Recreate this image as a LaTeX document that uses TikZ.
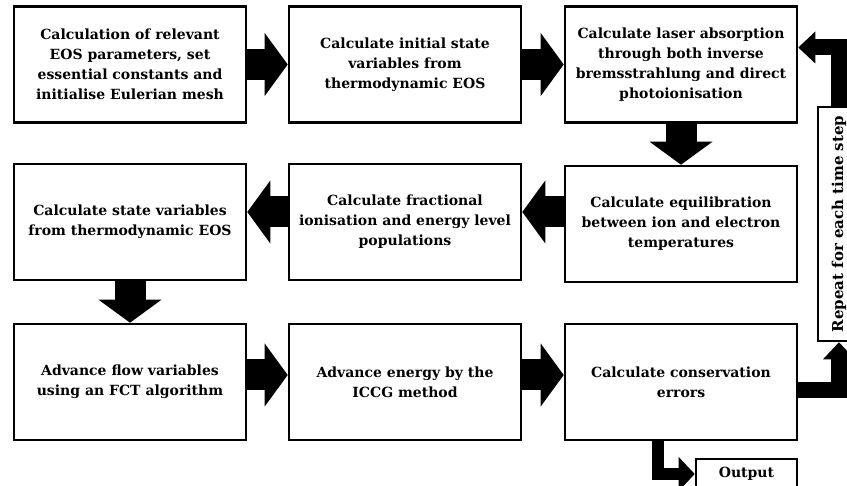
\documentclass[tikz,border=0pt]{standalone}
\usepackage{fontspec}
\setmainfont{DejaVu Serif}
\usetikzlibrary{arrows.meta}
\begin{document}
\begin{tikzpicture}
		[x=1pt,y=-1pt,
		flowbox/.style = {shape=rectangle, draw, line width=2.6pt, align=center, minimum width=232pt, minimum height=116pt, inner sep=2pt, font=\bfseries\fontsize{14}{20}\selectfont},
		bigarrow/.style = {line width=31pt, -{Triangle[length=23pt,width=63pt,line width=0pt]}},
		looparrow/.style = {line width=16pt, -{Triangle[length=17pt,width=32pt,line width=0pt]}},
		outarrow/.style = {line width=12pt, -{Triangle[length=16pt,width=34pt,line width=0pt]}}]
		\useasboundingbox (0,0) rectangle (847,486);
		\clip (0,0) rectangle (847,486);
		% first row
		\node[flowbox,name=1] at (130,64.5) {Calculation of relevant\\EOS parameters, set\\essential constants and\\initialise Eulerian mesh};
		\node[flowbox,name=2] at (405,64.5) {Calculate initial state\\variables from\\thermodynamic EOS};
		\node[flowbox,name=3] at (681,64.5) {Calculate laser absorption\\through both inverse\\bremsstrahlung and direct\\photoionisation};
		% second row
		\node[flowbox,name=4] at (130,222) {Calculate state variables\\from thermodynamic EOS};
		\node[flowbox,name=5] at (405,222) {Calculate fractional\\ionisation and energy level\\populations};
		\node[flowbox,name=6] at (681,224) {Calculate equilibration\\between ion and electron\\temperatures};
		% third row
		\node[flowbox,name=7] at (130,382) {Advance flow variables\\using an FCT algorithm};
		\node[flowbox,name=8] at (405,382) {Advance energy by the\\ICCG method};
		\node[flowbox,name=9] at (681,382) {Calculate conservation\\errors};
		% loop and output
		\node[flowbox,name=10,minimum width=234pt,minimum height=42pt,rotate=90,font=\bfseries\fontsize{15}{20}\selectfont] at (839,224) {Repeat for each time step};
		\node[flowbox,name=11,minimum width=101pt,minimum height=30pt] at (746.5,474) {Output};
		% main flow
		\draw[bigarrow] (1) -- (2);
		\draw[bigarrow] (2) -- (3);
		\draw[bigarrow] (3) -- (6);
		\draw[bigarrow] ([yshift=12pt]6.west) -- ([yshift=12pt]6.west -| 5.east);
		\draw[bigarrow] ([yshift=10pt]5.west) -- ([yshift=10pt]4.east);
		\draw[bigarrow] (4) -- (7);
		\draw[bigarrow] ([yshift=7pt]7.east) -- ([yshift=7pt]8.west);
		\draw[bigarrow] ([yshift=7pt]8.east) -- ([yshift=7pt]9.west);
		% repeat loop
		\draw[looparrow] ([yshift=-8pt]9.east) -| (10.west);
		\draw[looparrow] (10.east) |- ([yshift=17pt]3.east);
		\draw[outarrow] ([xshift=-23pt]9.south) |- (11.west);
	\end{tikzpicture}
\end{document}
